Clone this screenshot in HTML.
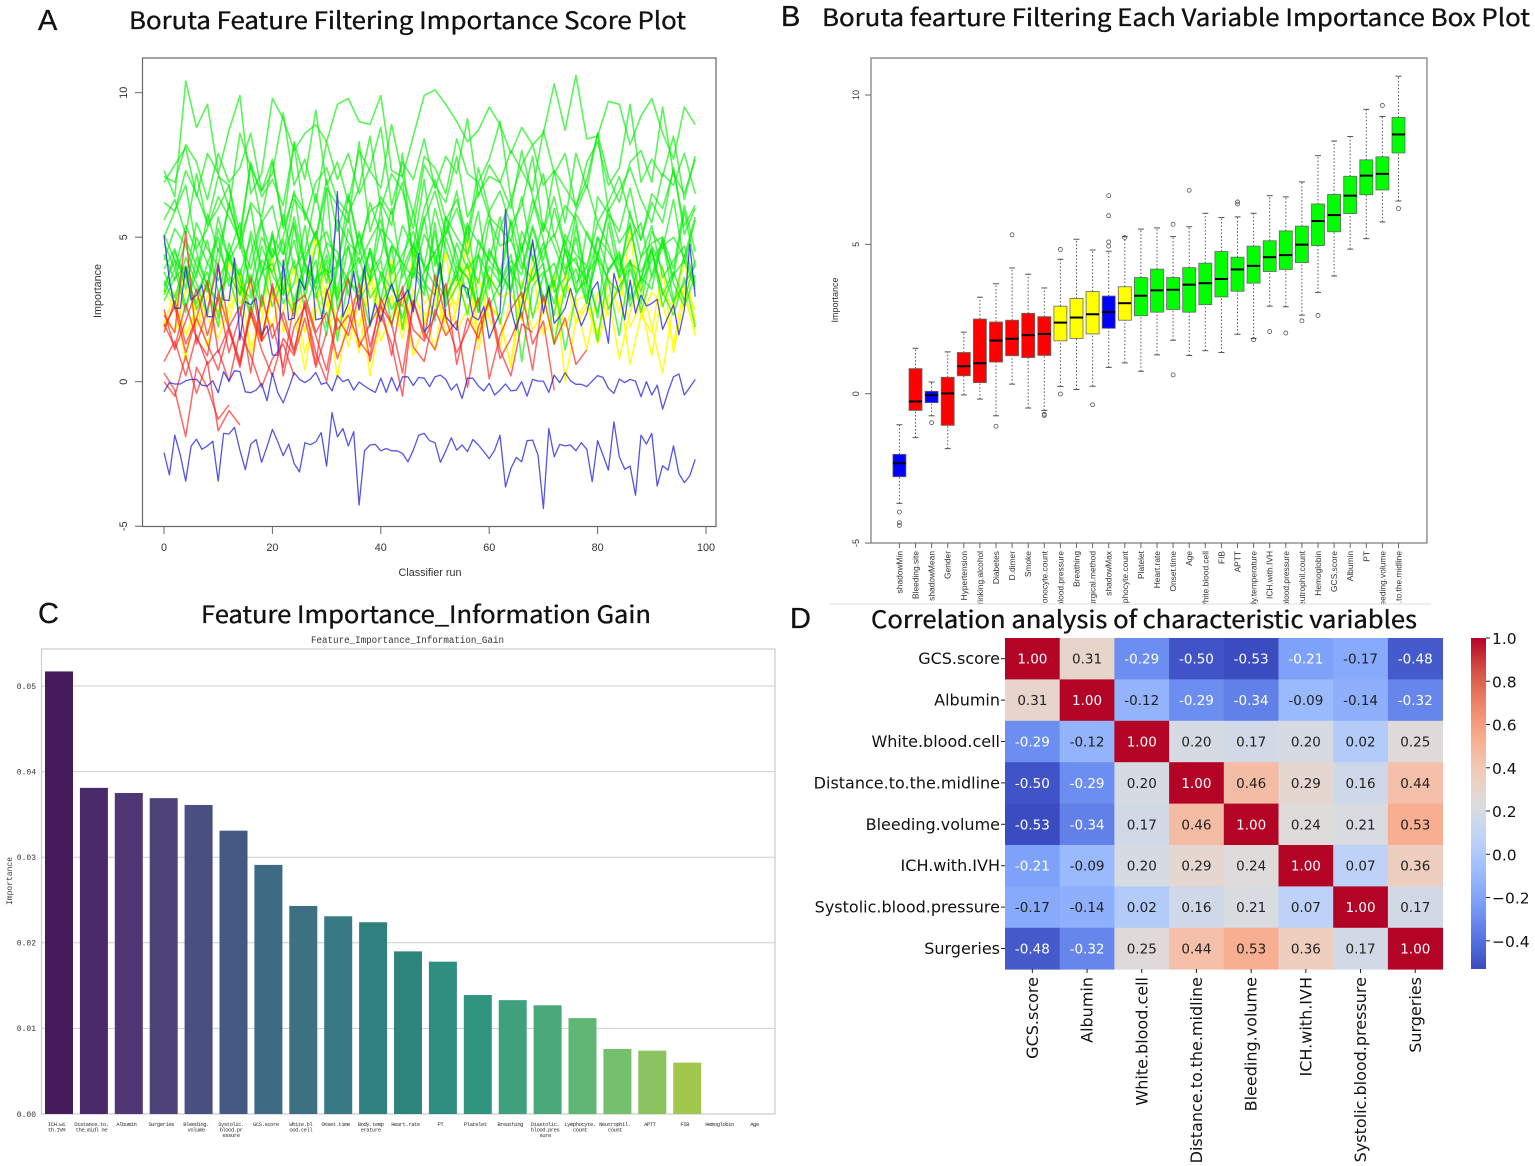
<!DOCTYPE html>
<html lang="en">
<head>
<meta charset="utf-8">
<title>Boruta feature selection figure</title>
<style>
html,body{margin:0;padding:0;background:#fff;}
body{width:1535px;height:1166px;overflow:hidden;}
svg{display:block;filter:blur(0.35px);}
.ttl{font-family:"Noto Sans CJK SC","Liberation Sans",sans-serif;font-size:24px;fill:#111;stroke:#111;stroke-width:.35px;}
.ltr{font-family:"Liberation Sans","Noto Sans CJK SC",sans-serif;font-size:29px;fill:#111;stroke:#111;stroke-width:.3px;}
.r{font-family:"Liberation Sans",sans-serif;font-size:10.8px;fill:#333;}
.mono{font-family:"Liberation Mono",monospace;fill:#333;}
.dj{font-family:"DejaVu Sans",sans-serif;fill:#111;}
</style>
</head>
<body>
<svg id="fig" xmlns="http://www.w3.org/2000/svg" width="1535" height="1166" viewBox="0 0 1535 1166">
  <defs>
    <linearGradient id="cbar-grad" x1="0" y1="1" x2="0" y2="0">
      <stop offset="0" stop-color="#3b4cc0"/>
      <stop offset="0.1" stop-color="#5977e3"/>
      <stop offset="0.2" stop-color="#7b9ff9"/>
      <stop offset="0.3" stop-color="#9ebeff"/>
      <stop offset="0.4" stop-color="#c0d4f5"/>
      <stop offset="0.5" stop-color="#dddcdc"/>
      <stop offset="0.6" stop-color="#f2cbb7"/>
      <stop offset="0.7" stop-color="#f7ac8e"/>
      <stop offset="0.8" stop-color="#ee8468"/>
      <stop offset="0.9" stop-color="#d65244"/>
      <stop offset="1" stop-color="#b40426"/>
    </linearGradient>
  </defs>

  <text class="ltr" x="38" y="30">A</text>
  <text class="ttl" x="129" y="29" textLength="557" lengthAdjust="spacingAndGlyphs">Boruta Feature Filtering Importance Score Plot</text>
  <rect x="142.5" y="58" width="573.5" height="468.5" fill="none" stroke="#666" stroke-width="1.2"/>
  <g id="a-lines"></g>
  <g id="a-axes"></g>
  <text class="r" transform="translate(101,291) rotate(-90)" text-anchor="middle">Importance</text>
  <text class="r" x="430" y="576" text-anchor="middle">Classifier run</text>

  <text class="ltr" x="781" y="26">B</text>
  <text class="ttl" x="822" y="26" textLength="708" lengthAdjust="spacingAndGlyphs">Boruta fearture Filtering Each Variable Importance Box Plot</text>
  <rect x="871" y="58" width="556" height="485" fill="none" stroke="#777" stroke-width="1.2"/>
  <g id="b-boxes"></g>
  <g id="b-axes"></g>
  <text class="r" style="font-size:9px" transform="translate(838,300) rotate(-90)" text-anchor="middle">Importance</text>
  <rect id="b-label-overlap" x="860" y="604.6" width="580" height="40" fill="#fff"/>
  <line x1="830" y1="604" x2="1431" y2="604" stroke="#ddd" stroke-width="1"/>

  <text class="ltr" x="38" y="623">C</text>
  <text class="ttl" x="201" y="623" textLength="450" lengthAdjust="spacingAndGlyphs">Feature Importance_Information Gain</text>
  <text class="mono" x="407.5" y="643" font-size="10" text-anchor="middle" textLength="193" lengthAdjust="spacingAndGlyphs">Feature_Importance_Information_Gain</text>
  <g id="c-chart"></g>
  <text class="mono" font-size="8" transform="translate(12,881) rotate(-90)" text-anchor="middle">Importance</text>

  <text class="ltr" x="790" y="628">D</text>
  <text class="ttl" x="871" y="628" textLength="546" lengthAdjust="spacingAndGlyphs">Correlation analysis of characteristic variables</text>
  <g id="d-heat"></g>
  <rect x="1471" y="638" width="15" height="331" fill="url(#cbar-grad)"/>
  <g id="d-cbar"></g>
</svg>

<script>
// ---------- Panel A data: importance per classifier run ----------
const shadowMinRuns = [-2.45,-3.23,-1.85,-2.54,-3.44,-2.23,-1.99,-2.34,-2.22,-2.06,-3.44,-1.79,-1.81,-1.58,-2.37,-3.04,-2.17,-2.0,-2.79,-2.25,-1.65,-2.08,-2.56,-2.16,-2.83,-3.12,-2.11,-2.18,-2.08,-1.76,-2.92,-1.07,-1.91,-1.62,-2.22,-1.73,-4.27,-2.39,-2.19,-2.17,-2.39,-2.31,-2.39,-2.39,-2.48,-2.77,-2.37,-1.85,-1.79,-2.04,-2.11,-2.79,-2.39,-1.94,-2.37,-2.19,-2.42,-2.0,-2.19,-2.42,-2.66,-2.37,-1.85,-3.64,-3.0,-2.62,-2.77,-2.04,-2.02,-2.54,-4.39,-1.62,-2.6,-2.17,-2.22,-2.19,-2.39,-2.11,-2.34,-3.46,-2.04,-2.54,-3.06,-1.39,-2.6,-3.03,-2.92,-3.93,-1.85,-2.16,-1.79,-3.61,-2.91,-3.06,-2.22,-3.18,-3.49,-3.26,-2.69];
const shadowMeanRuns = [-.35,-.03,-.08,-.08,.03,.08,.08,-.12,-.15,.03,-.38,.35,.02,.38,.35,-.35,-.38,-.29,-.06,-.66,.29,-.38,-.73,-.23,.32,.08,-.03,.09,.32,-.09,-.03,-.32,.21,0,.08,-.29,-.01,-.15,-.27,-.37,.12,-.37,.15,-.32,.17,.17,-.13,.15,.12,-.17,.17,.23,.08,-.29,-.08,-.58,.12,.12,-.15,-.32,-.06,-.46,-.29,-.08,-.32,-.29,0,-.5,.08,.02,.02,-.37,.23,-.03,.31,.03,-.09,-.09,-.17,.02,.21,.15,-.23,-.4,.09,-.03,.08,.02,-.52,0,-.46,-.12,-.95,-.35,.17,.27,-.46,-.2,.08];
const shadowMaxRuns = [5.06,3.52,2.54,2.54,3.96,2.83,3.0,3.35,2.25,2.25,4.02,2.83,2.81,4.27,1.44,2.77,2.66,2.89,1.62,1.94,.92,.92,4.21,2.14,2.19,3.55,3.18,4.36,2.14,2.19,3.06,3.52,6.58,2.25,2.71,3.81,2.48,4.01,1.96,2.71,2.08,2.83,3.38,2.77,2.89,3.18,2.42,4.45,1.73,1.96,3.06,4.1,2.25,2.02,1.79,3.35,3.23,2.25,2.14,2.6,1.5,1.96,2.37,5.95,2.54,1.79,2.6,3.64,4.91,3.64,2.37,3.31,2.02,2.25,2.54,3.23,2.54,1.93,2.37,3.18,3.46,2.31,1.33,3.75,3.06,2.14,3.52,2.37,3.0,2.62,2.71,2.85,1.81,2.25,2.66,1.62,2.48,4.76,2.94];

// Sampled every second classifier run (0, 2, 4 ...); rejected features stop early.
const runStep = 2;
const greenDistance = [7.3,6.4,10.4,8.8,9.6,7.2,8.7,9.9,6.5,7.2,9.8,9.1,8.0,8.6,8.9,8.3,9.6,9.8,9.0,8.9,9.9,7.3,7.1,8.5,9.9,10.1,9.6,9.0,8.3,8.7,9.5,8.9,7.9,8.8,8.2,8.6,10.3,8.7,10.6,8.4,8.5,9.7,9.6,8.2,9.2,9.8,8.6,7.7,9.5,8.9];
const greenBleedingVolume = [7.1,6.9,8.2,7.6,6.3,7.9,6.9,7.4,8.6,6.6,7.2,9.3,6.8,7.7,6.2,8.3,7.0,7.9,6.5,7.4,8.8,6.1,7.6,7.0,8.4,6.7,7.8,7.2,9.1,6.4,7.5,6.9,8.0,7.3,6.6,8.7,7.2,7.9,6.0,7.6,8.3,6.8,7.4,9.6,6.9,7.7,7.1,8.5,6.3,7.8];
const greenPT = [6.9,7.5,8.1,6.4,7.9,7.2,6.0,8.6,7.4,6.6,7.7,5.4,8.3,7.0,9.4,6.8,7.6,6.2,8.0,7.3,6.7,8.9,7.1,5.8,7.8,7.4,6.5,8.4,7.2,6.9,7.7,9.0,6.3,7.5,8.2,6.8,7.3,5.5,7.9,6.7,8.6,7.1,6.2,7.6,8.0,6.9,9.5,7.2,6.5,7.7];
const greenAlbumin = [6.2,5.9,7.3,6.5,5.5,7.1,6.8,5.1,7.6,6.4,7.0,6.1,8.2,5.6,6.9,7.4,6.3,5.8,6.7,8.5,6.0,7.2,6.6,5.3,7.5,6.8,6.2,7.8,5.7,6.5,7.1,6.9,6.0,8.0,6.4,5.2,7.3,6.7,6.1,7.0,8.6,5.9,6.6,7.4,6.3,5.5,7.2,6.8,7.9,6.5];
const greenGCS = [5.6,6.3,5.1,7.2,5.4,6.0,6.8,4.6,6.2,5.7,7.6,5.3,6.5,5.9,4.9,6.7,6.1,5.5,8.3,5.2,6.4,5.8,6.9,4.3,6.0,7.0,5.6,6.3,5.0,7.4,5.9,6.6,5.4,6.1,7.8,5.2,6.4,4.7,5.9,6.8,5.5,6.2,7.1,5.7,4.9,6.5,6.0,7.3,5.4,6.1];
const greenHemoglobin = [5.0,5.9,6.8,4.6,5.3,6.4,5.7,4.9,7.5,5.5,6.1,4.4,6.3,5.8,5.0,7.0,5.2,6.5,4.7,5.9,6.2,5.4,7.9,3.9,5.6,6.6,5.1,6.0,4.8,6.9,5.7,5.3,6.3,4.5,5.9,7.2,5.0,6.1,5.6,3.4,6.4,5.8,5.2,6.7,4.9,6.2,5.5,7.4,5.1,6.0];
const greenNeutrophil = [4.2,5.3,4.7,3.6,5.8,4.5,6.1,4.9,3.9,5.5,4.3,5.0,6.6,4.1,5.2,3.4,5.6,4.8,4.4,6.2,5.1,3.8,5.4,4.6,7.0,4.0,5.7,5.0,4.4,5.9,3.2,5.3,4.9,6.4,4.2,5.5,4.7,3.7,5.8,5.1,4.3,6.0,4.8,5.4,3.5,5.2,4.6,6.3,4.1,5.6];
const greenSystolic = [4.8,3.9,5.4,4.5,3.3,5.7,4.2,4.9,6.1,3.7,5.0,4.4,5.5,2.9,4.7,5.2,4.0,6.4,4.6,3.5,5.3,4.8,4.1,5.9,3.8,4.5,5.1,6.6,4.3,3.4,5.6,4.7,4.9,3.9,5.4,4.2,6.0,4.6,3.1,5.2,4.4,5.8,4.0,4.9,5.5,3.6,4.7,5.0,4.3,5.7];
const greenICH = [5.1,4.2,3.6,5.5,4.6,4.0,6.2,4.8,3.4,5.0,4.3,5.8,3.9,4.5,6.5,4.7,3.1,5.3,4.1,4.9,5.6,3.7,4.4,5.2,4.0,6.0,4.6,3.5,5.4,4.8,4.2,5.7,3.8,4.5,6.3,4.9,3.3,5.1,4.4,4.0,5.5,4.7,3.6,5.9,4.3,4.8,5.0,3.9,6.1,4.5];
const greenBodyTemp = [4.4,3.5,4.9,4.0,3.1,5.3,4.2,3.7,5.0,2.6,4.6,3.9,5.7,4.1,3.4,4.8,4.5,3.0,5.2,3.8,4.3,6.0,3.6,4.7,4.0,3.3,5.4,4.4,2.9,4.9,4.2,3.7,5.6,4.1,3.5,4.6,5.1,3.9,4.3,2.7,5.0,4.5,3.8,5.5,3.4,4.2,4.8,3.6,5.9,4.0];
const greenAPTT = [3.9,4.6,3.2,5.0,4.1,3.5,4.4,5.5,3.0,4.2,3.8,4.9,2.5,4.3,5.2,3.7,4.0,5.8,3.4,4.5,2.8,4.7,4.1,3.6,5.1,4.3,3.1,4.8,3.9,4.4,5.9,3.3,4.2,3.7,5.3,4.0,2.3,4.6,4.1,3.5,5.0,3.8,4.5,2.9,4.3,5.4,3.6,4.2,4.7,3.4];
const greenFIB = [3.1,4.5,3.6,2.7,4.1,5.0,3.3,3.9,2.4,4.7,3.7,3.0,5.4,4.0,3.2,4.4,2.9,3.8,5.1,3.5,4.2,1.9,3.9,4.8,3.4,3.0,5.7,4.1,3.6,2.6,4.6,3.8,3.2,5.2,4.3,2.8,3.7,4.9,3.4,4.0,2.2,5.5,3.6,4.2,3.1,4.7,3.9,2.7,4.4,3.3];
const greenWBC = [3.8,2.9,4.3,3.4,2.3,4.6,3.7,3.0,5.2,4.0,2.6,3.6,4.9,3.2,4.2,1.9,3.9,4.7,2.8,3.5,6.0,3.3,4.1,2.5,3.8,4.5,3.0,3.7,5.5,2.7,4.0,3.4,4.4,2.2,3.9,4.8,3.1,3.6,5.0,2.9,4.3,3.5,1.6,4.1,3.8,4.6,2.6,3.7,4.2,3.2];
const greenAge = [3.3,4.2,2.6,3.8,4.9,3.1,3.6,2.3,4.4,5.6,3.0,3.9,2.8,4.1,3.4,6.7,2.5,3.7,4.3,2.9,3.5,4.7,1.8,3.9,3.2,5.2,2.7,4.0,3.6,2.4,4.5,3.8,3.1,4.8,2.2,3.7,4.1,2.9,5.4,3.3,1.4,3.9,4.4,2.6,3.6,4.6,3.0,3.8,2.8,4.2];
const greenOnset = [3.5,2.7,4.0,3.1,3.8,2.2,4.5,3.3,2.9,3.7,5.2,3.0,4.2,2.5,3.6,3.9,2.8,4.7,3.4,1.9,3.8,3.2,2.6,4.1,5.7,3.5,2.9,3.7,2.3,4.4,3.6,3.0,4.0,0.7,3.3,3.8,2.7,4.6,3.1,3.5,2.4,3.9,4.3,2.8,3.6,3.2,5.0,3.4,2.6,3.7];
const greenHeartRate = [3.0,3.9,2.4,4.3,3.3,2.8,4.8,3.6,2.2,3.8,4.1,2.7,3.4,5.4,3.1,1.6,4.2,3.5,2.9,4.6,3.7,2.5,3.2,4.0,3.5,2.1,5.0,3.8,3.0,4.4,2.6,3.4,5.5,2.9,3.6,4.1,1.3,3.3,3.9,2.7,4.5,3.5,3.1,4.2,2.4,3.7,4.9,2.8,3.4,4.0];
const greenPlatelet = [2.8,3.6,4.0,2.5,3.3,1.9,4.4,3.0,3.7,2.6,5.1,3.2,2.3,3.9,2.9,4.2,1.4,3.5,3.1,4.6,2.7,3.4,2.2,3.8,3.0,5.5,2.6,3.3,4.1,2.4,3.6,2.0,3.9,3.2,4.8,2.8,3.5,1.1,3.0,3.7,4.3,2.5,3.3,3.9,2.7,4.5,3.1,2.3,3.6,1.9];
const yellowSurgical = [2.0,3.1,1.6,2.6,3.4,1.9,2.7,3.8,2.2,1.4,3.0,2.4,4.0,1.7,2.8,3.3,2.1,2.6,1.0,3.5,2.3,2.9,1.5,3.2,2.0,2.7,4.5,1.8,2.5,3.6,2.2,1.2,3.0,2.6,3.9,1.6,2.4,3.3,2.8,1.1,3.1,2.3,3.7,1.9,2.7,0.9,3.2,2.5,4.2,2.1];
const yellowBreathing = [2.4,1.7,3.2,2.6,1.2,3.0,2.1,3.6,0.9,2.7,1.9,3.4,2.3,0.4,2.8,3.9,1.6,2.5,3.1,0.2,2.2,4.2,1.8,2.9,2.4,1.1,3.3,2.6,5.0,1.5,2.7,2.1,0.6,3.5,2.3,2.9,1.3,3.8,2.0,2.6,1.7,3.0,0.8,2.4,3.4,1.9,0.3,2.7,3.2,1.6];
const yellowDiastolic = [1.8,2.7,0.7,3.0,2.2,1.5,2.5,3.3,1.2,2.1,4.4,1.7,2.8,1.0,2.4,3.1,0.1,2.6,1.9,3.6,1.4,2.3,2.9,0.9,2.0,3.4,1.6,2.5,4.1,1.1,2.7,2.2,0.5,3.0,1.8,2.4,3.7,0.0,2.1,2.8,1.3,2.6,3.2,0.6,2.3,1.7,4.0,1.0,2.9,1.8];
const yellowLymphocyte = [3.2,2.5,3.8,1.9,3.0,2.4,4.1,2.7,3.4,1.6,2.9,3.6,2.2,3.1,5.0,2.6,3.3,1.2,2.8,3.9,2.3,3.0,1.8,4.6,2.7,3.2,2.0,3.5,2.5,1.4,3.7,2.9,3.1,2.1,4.3,2.6,3.4,1.9,2.8,3.0,1.6,3.6,2.4,5.2,2.2,3.1,2.7,1.3,3.3,2.5];
const redGender = [0.3,-0.3,-1.9,0.5,-0.2,-1.3,-0.8];
const redBleedingSite = [0.0,-0.5,0.9,-0.4,0.7,-1.7,-1.0,-1.5];
const redHypertension = [0.7,1.4,0.2,1.6,0.6,1.1,0.0,1.7,0.9,-0.2,0.8,1.3,0.2];
const redDrinking = [1.9,2.6,1.0,2.2,1.3,0.4,1.8,0.6,2.4,1.1,0.2,1.5,0.9,2.2,0.5,1.7];
const redDiabetes = [2.0,1.2,2.7,1.5,0.9,3.1,1.8,0.5,2.4,1.4,3.4,0.2,1.9,2.6,1.0,0.0,2.2,1.6,3.0,0.7,2.3,1.3,-0.5,2.8,1.7,1.1,2.5];
const redDDimer = [2.3,1.7,5.2,1.3,2.5,4.1,1.9,0.7,2.6,1.5,3.3,2.1,1.0,2.8,1.6,0.4,2.4,3.6,1.2,2.0,2.7,0.9,3.1,1.8,1.4,2.3,3.4,0.6,2.2,1.5,2.9,1.1,0.2,2.0,1.7];
const redSmoke = [2.5,1.1,2.1,3.2,1.6,2.9,1.0,2.3,3.6,1.4,2.0,0.5,2.7,3.0,1.7,2.4,0.8,1.9,3.4,1.2,2.6,2.0,0.3,2.8,1.5,3.7,2.2,1.0,1.8,2.9,0.1,1.6,2.5,3.1,1.3,2.1,-0.3];
const redMonocyte = [1.7,2.8,1.3,2.2,3.5,1.0,1.9,2.6,0.3,3.0,1.5,2.4,1.1,2.7,0.6,3.2,1.8,2.3,1.4,0.9,2.9,2.0,3.3,1.2,0.7,2.5,1.6,2.1,-0.2,1.9,2.8,0.8,1.5,2.4,0.4,3.0,1.3,2.2,0.6,1.1];

const redSeries = [redGender,redBleedingSite,redHypertension,redDrinking,redDiabetes,redDDimer,redSmoke,redMonocyte];
const yellowSeries = [yellowSurgical,yellowBreathing,yellowDiastolic,yellowLymphocyte];
const greenSeries = [greenPlatelet,greenHeartRate,greenOnset,greenAge,greenWBC,greenFIB,greenAPTT,greenBodyTemp,greenICH,greenSystolic,greenNeutrophil,greenHemoglobin,greenGCS,greenAlbumin,greenPT,greenBleedingVolume,greenDistance];
const blueSeries = [shadowMinRuns,shadowMeanRuns,shadowMaxRuns];
const aXTicks = [0,20,40,60,80,100];
const aYTicks = [10,5,0,-5];

// ---------- Panel B data ----------
const bNames = ["shadowMin","Bleeding.site","shadowMean","Gender","Hypertension","Drinking.alcohol","Diabetes","D.dimer","Smoke","Monocyte.count","Diastolic.blood.pressure","Breathing","Surgical.method","shadowMax","Lymphocyte.count","Platelet","Heart.rate","Onset.time","Age","White.blood.cell","FIB","APTT","Body.temperature","ICH.with.IVH","Systolic.blood.pressure","Neutrophil.count","Hemoglobin","GCS.score","Albumin","PT","Bleeding.volume","Distance.to.the.midline"];
const bStatus = ["s","r","s","r","r","r","r","r","r","r","t","t","t","s","t","c","c","c","c","c","c","c","c","c","c","c","c","c","c","c","c","c"];
const bWhiskerLow = [-3.67,-1.47,-.74,-1.84,-.04,-.18,-.74,.32,-.48,-.56,.24,.14,.25,.88,1.03,.75,1.3,1.79,1.28,1.44,1.38,1.99,1.85,2.93,2.91,2.63,3.39,3.94,4.84,5.19,5.75,6.45];
const bQ1 = [-2.78,-.56,-.3,-1.06,.6,.37,1.06,1.27,1.21,1.28,1.77,1.85,2.0,2.19,2.46,2.61,2.73,2.82,2.73,2.98,3.24,3.43,3.7,4.09,4.16,4.39,4.96,5.42,6.03,6.66,6.82,8.06];
const bMedian = [-2.33,-.26,-.05,.01,.92,1.02,1.78,1.84,1.96,2.0,2.38,2.55,2.66,2.73,3.03,3.28,3.46,3.48,3.65,3.7,3.84,4.16,4.28,4.57,4.64,4.99,5.78,5.98,6.63,7.3,7.36,8.68];
const bQ3 = [-2.03,.84,.08,.55,1.38,2.5,2.4,2.46,2.69,2.58,2.93,3.19,3.42,3.27,3.58,3.89,4.17,3.89,4.22,4.37,4.76,4.57,4.94,5.12,5.45,5.61,6.35,6.67,7.28,7.83,7.93,9.25];
const bWhiskerHigh = [-1.04,1.52,.39,1.4,2.06,3.23,3.68,4.21,4.0,3.54,4.5,5.17,4.81,4.77,5.26,5.51,5.55,5.26,5.59,6.04,5.9,5.92,6.04,6.63,6.59,7.09,7.97,8.46,8.61,9.52,9.28,10.63];
const bOutliers = [[-3.96,-4.32,-4.41],[],[-.97],[],[],[],[-1.09],[5.32],[],[-.69,-.73],[4.83,-.01],[],[-.37],[6.63,5.96,5.08,4.94],[5.23],[],[],[5.67,.63],[6.81],[],[],[6.42,6.35],[1.81],[2.08],[2.03],[2.44],[2.62],[],[],[],[9.65],[6.2]];
const bYTicks = [10,5,0,-5];

// ---------- Panel C data ----------
const cLabels = ["ICH.wi|th.IVH","Distance.to.|the.midl ne","Albumin","Surgeries","Bleeding.|volume","Systolic.|blood.pr|essure","GCS.score","White.bl|ood.cell","Onset.time","Body.temp|erature","Heart.rate","PT","Platelet","Breathing","Diastolic.|blood.pres|sure","Lymphocyte.|count","Neutrophil.|count","APTT","FIB","Hemoglobin","Age"];
const cValues = [.0517,.0381,.0375,.0369,.0361,.0331,.0291,.0243,.0231,.0224,.0190,.0178,.0139,.0133,.0127,.0112,.0076,.0074,.0060,0,0];
const cColors = ["#451b5b","#4b2a6b","#4f3674","#4e4379","#485081","#445a82","#3f6a85","#3b7183","#387a83","#30807f","#2e857e","#2e8e80","#30957f","#3ea07c","#4ba87a","#60b675","#75c06d","#8bc45f","#a2c64c","#fff","#fff"];
const cYTicks = [0,.01,.02,.03,.04,.05];

// ---------- Panel D data ----------
const dNames = ["GCS.score","Albumin","White.blood.cell","Distance.to.the.midline","Bleeding.volume","ICH.with.IVH","Systolic.blood.pressure","Surgeries"];
const dRow0 = [1,.31,-.29,-.50,-.53,-.21,-.17,-.48];
const dRow1 = [.31,1,-.12,-.29,-.34,-.09,-.14,-.32];
const dRow2 = [-.29,-.12,1,.20,.17,.20,.02,.25];
const dRow3 = [-.50,-.29,.20,1,.46,.29,.16,.44];
const dRow4 = [-.53,-.34,.17,.46,1,.24,.21,.53];
const dRow5 = [-.21,-.09,.20,.29,.24,1,.07,.36];
const dRow6 = [-.17,-.14,.02,.16,.21,.07,1,.17];
const dRow7 = [-.48,-.32,.25,.44,.53,.36,.17,1];
const dMatrix = [dRow0,dRow1,dRow2,dRow3,dRow4,dRow5,dRow6,dRow7];
const dCbarTicks = [1,.8,.6,.4,.2,0,-.2,-.4];

// ---------- helpers ----------
const NS = "http://www.w3.org/2000/svg";
function mk(parent, tag, attrs, txt){
  const e = document.createElementNS(NS, tag);
  for (const k in attrs) e.setAttribute(k, attrs[k]);
  if (txt !== undefined) e.textContent = txt;
  parent.appendChild(e);
  return e;
}
const byId = id => document.getElementById(id);

// ---------- Panel A ----------
const xA = r => 164 + 5.42 * r;
const yA = v => 381.7 - 28.9 * v;
function drawLines(list, step, color, opacity, width, label){
  list.forEach((vals, i) => {
    const pts = vals.map((v, j) => xA(j * step).toFixed(1) + "," + yA(v).toFixed(1)).join(" ");
    const el = mk(byId("a-lines"), "polyline", {points: pts, fill: "none", stroke: color, "stroke-width": width, "stroke-opacity": opacity, "stroke-linejoin": "round"});
    
    
  });
}
drawLines(yellowSeries, runStep, "#ffff00", .9, 1.5, "tentative");
drawLines(greenSeries, runStep, "#00f000", .65, 1.6, "confirmed");
drawLines(redSeries, runStep, "#ff2020", .68, 1.5, "rejected");
drawLines(blueSeries, 1, "#2424e0", .78, 1.3, "shadow");
aXTicks.forEach(t => {
  const tick = mk(byId("a-axes"), "line", {x1: xA(t), x2: xA(t), y1: 526.5, y2: 534, stroke: "#666"});
  
  
  const lab = mk(byId("a-axes"), "text", {x: xA(t), y: 551, "text-anchor": "middle", class: "r"}, String(t));
  
  
});
aYTicks.forEach(t => {
  const tick = mk(byId("a-axes"), "line", {x1: 135, x2: 142.5, y1: yA(t), y2: yA(t), stroke: "#666"});
  
  
  const lab = mk(byId("a-axes"), "text", {transform: "translate(127," + yA(t) + ") rotate(-90)", "text-anchor": "middle", class: "r"}, String(t));
  
  
});

// ---------- Panel B ----------
const xB = i => 899.4 + 16.1 * i;
const yB = v => 393.7 - 29.87 * v;
const statusFill = {s: "#0000ff", r: "#ff0000", t: "#ffff00", c: "#00ff00"};
const bG = byId("b-boxes");
bNames.forEach((name, i) => {
  const x = xB(i);
  const g = mk(bG, "g", {});
  
  
  const wl = mk(g, "line", {x1: x, x2: x, y1: yB(bWhiskerLow[i]), y2: yB(bQ1[i]), stroke: "#555", "stroke-width": 1, "stroke-dasharray": "1.5 2"});
  
  
  const wh = mk(g, "line", {x1: x, x2: x, y1: yB(bQ3[i]), y2: yB(bWhiskerHigh[i]), stroke: "#555", "stroke-width": 1, "stroke-dasharray": "1.5 2"});
  
  
  const cl = mk(g, "line", {x1: x - 3, x2: x + 3, y1: yB(bWhiskerLow[i]), y2: yB(bWhiskerLow[i]), stroke: "#555"});
  
  
  const ch = mk(g, "line", {x1: x - 3, x2: x + 3, y1: yB(bWhiskerHigh[i]), y2: yB(bWhiskerHigh[i]), stroke: "#555"});
  
  
  const box = mk(g, "rect", {x: x - 6.5, width: 13, y: yB(bQ3[i]), height: yB(bQ1[i]) - yB(bQ3[i]), fill: statusFill[bStatus[i]], stroke: "#666", "stroke-width": .8});
  
  
  const med = mk(g, "line", {x1: x - 6.5, x2: x + 6.5, y1: yB(bMedian[i]), y2: yB(bMedian[i]), stroke: "#000", "stroke-width": 2});
  
  
  bOutliers[i].forEach(v => {
    const o = mk(g, "circle", {cx: x, cy: yB(v), r: 2, fill: "none", stroke: "#555", "stroke-width": .8});
    
    
  });
  const tick = mk(byId("b-axes"), "line", {x1: x, x2: x, y1: 543, y2: 548, stroke: "#666"});
  
  
  const lab = mk(byId("b-axes"), "text", {transform: "translate(" + (x + 3) + ",551) rotate(-90)", "text-anchor": "end", class: "r", style: "font-size:8.4px"}, name);
  
  
});
bYTicks.forEach(t => {
  const tick = mk(byId("b-axes"), "line", {x1: 865, x2: 871, y1: yB(t), y2: yB(t), stroke: "#666"});
  
  
  const lab = mk(byId("b-axes"), "text", {transform: "translate(859," + yB(t) + ") rotate(-90)", "text-anchor": "middle", class: "r", style: "font-size:9px"}, String(t));
  
  
});

// ---------- Panel C ----------
const xC = i => 59 + 34.9 * i;
const yC = v => 1114 - 8560 * v;
const cG = byId("c-chart");
const cFrame = mk(cG, "rect", {x: 41.5, y: 649, width: 733.5, height: 465, fill: "none", stroke: "#ccc", "stroke-width": 1.2});


cYTicks.forEach(t => {
  const grid = mk(cG, "line", {x1: 41.5, x2: 775, y1: yC(t), y2: yC(t), stroke: "#ccc", "stroke-width": 1});
  
  
  const lab = mk(cG, "text", {x: 36, y: yC(t) + 2.8, "text-anchor": "end", class: "mono", "font-size": 8}, t.toFixed(2));
  
  
});
cValues.forEach((v, i) => {
  if (v > 0) {
    const bar = mk(cG, "rect", {x: xC(i) - 14, width: 28, y: yC(v), height: yC(0) - yC(v), fill: cColors[i]});
    
    
  }
  cLabels[i].split("|").forEach((line, k) => {
    const lab = mk(cG, "text", {x: xC(i) - 2.5, y: 1126 + k * 5.5, "text-anchor": "middle", class: "mono", "font-size": 5.6, "letter-spacing": "-0.5"}, line);
    
    
  });
});

// ---------- Panel D ----------
const coolStops = [[59,76,192],[89,119,227],[123,159,249],[158,190,255],[192,212,245],[221,220,220],[242,203,183],[247,172,142],[238,132,104],[214,82,68],[180,4,38]];
function coolwarm(t){
  t = Math.max(0, Math.min(1, t)) * 10;
  const i = Math.min(9, Math.floor(t)), f = t - i;
  return coolStops[i].map((c, k) => Math.round(c + (coolStops[i + 1][k] - c) * f));
}
function luminance(c){
  const l = c.map(x => { x /= 255; return x <= .03928 ? x / 12.92 : Math.pow((x + .055) / 1.055, 2.4); });
  return .2126 * l[0] + .7152 * l[1] + .0722 * l[2];
}
const colW = 54.7, rowH = 41.4, hX = 1005, hY = 638;
const xD = j => hX + colW * j;
const yD = i => hY + rowH * i;
const scaleD = v => (v + .53) / 1.53;
const hG = byId("d-heat");
dMatrix.forEach((row, i) => {
  row.forEach((v, j) => {
    const c = coolwarm(scaleD(v));
    const cell = mk(hG, "rect", {x: xD(j), y: yD(i), width: colW + .4, height: rowH + .4, fill: "rgb(" + c.join(",") + ")"});
    
    
    const t = mk(hG, "text", {x: xD(j) + colW / 2, y: yD(i) + rowH / 2 + 5, "text-anchor": "middle", class: "dj", "font-size": 13.5, style: "fill:" + (luminance(c) < .40 ? "#fff" : "#222")}, v.toFixed(2));
    
    
  });
});
dNames.forEach((n, i) => {
  const rowLab = mk(hG, "text", {x: 1000, y: yD(i) + rowH / 2 + 5.5, "text-anchor": "end", class: "dj", "font-size": 16}, n);
  
  
  const colLab = mk(hG, "text", {transform: "translate(" + (xD(i) + colW / 2 + 5.5) + ",977) rotate(-90)", "text-anchor": "end", class: "dj", "font-size": 16}, n);
  
  
  const rt = mk(hG, "line", {x1: 1001, x2: 1005, y1: yD(i) + rowH / 2, y2: yD(i) + rowH / 2, stroke: "#222"});
  
  
  const ct = mk(hG, "line", {x1: xD(i) + colW / 2, x2: xD(i) + colW / 2, y1: 969, y2: 973, stroke: "#222"});
  
  
});
const yCb = v => 638 + (1 - v) * 216.3;
dCbarTicks.forEach(t => {
  const tick = mk(byId("d-cbar"), "line", {x1: 1486, x2: 1490, y1: yCb(t), y2: yCb(t), stroke: "#222"});
  
  
  const txt = (t < 0 ? "\u2212" : "") + Math.abs(t).toFixed(1);
  const lab = mk(byId("d-cbar"), "text", {x: 1492, y: yCb(t) + 6, class: "dj", "font-size": 15.5}, txt);
  
  
});
</script>
</body>
</html>
